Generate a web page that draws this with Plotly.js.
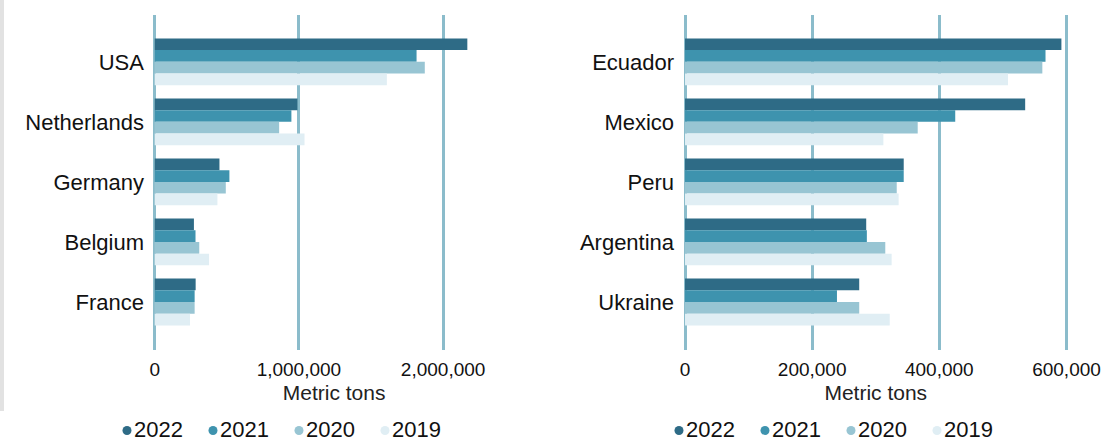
<!DOCTYPE html>
<html>
<head>
<meta charset="utf-8">
<script src="https://cdn.plot.ly/plotly-3.0.1.min.js"></script>
<style>html,body{margin:0;padding:0;background:#fff;}#chart{width:1115px;height:441px;}</style>
</head>
<body>
<div id="chart"></div>
<script>
// ---- data ----
var years = ['2022', '2021', '2020', '2019'];
var yearColors = ['#2e6b86', '#3e93ae', '#98c5d3', '#e0eef4'];

var leftCountries = ['USA', 'Netherlands', 'Germany', 'Belgium', 'France'];
var left2022 = [2168000, 990000, 449000, 272000, 284000];
var left2021 = [1816000, 948000, 518000, 283000, 277000];
var left2020 = [1873000, 863000, 493000, 309000, 277000];
var left2019 = [1610000, 1039000, 435000, 377000, 245000];

var rightCountries = ['Ecuador', 'Mexico', 'Peru', 'Argentina', 'Ukraine'];
var right2022 = [592000, 535000, 344000, 285000, 274000];
var right2021 = [567000, 425000, 344000, 286000, 239000];
var right2020 = [562000, 366000, 333000, 315000, 274000];
var right2019 = [508000, 312000, 336000, 325000, 322000];

var axisTitle = 'Metric tons';

// ---- layout helpers (pixel -> paper) ----
var W = 1115, H = 441, MT = 15, MB = 91;
var plotH = H - MT - MB;
function px(x) { return x / W; }
function py(y) { return (H - MB - y) / plotH; }

var leftVals = [left2022, left2021, left2020, left2019];
var rightVals = [right2022, right2021, right2020, right2019];

var traces = [];
years.forEach(function (yr, i) {
  traces.push({
    type: 'bar', orientation: 'h', name: yr,
    y: leftCountries, x: leftVals[i],
    marker: {color: yearColors[i], line: {width: 0}},
    xaxis: 'x', yaxis: 'y', showlegend: false, hoverinfo: 'x+y'
  });
});
years.forEach(function (yr, i) {
  traces.push({
    type: 'bar', orientation: 'h', name: yr,
    y: rightCountries, x: rightVals[i],
    marker: {color: yearColors[i], line: {width: 0}},
    xaxis: 'x2', yaxis: 'y2', showlegend: false, hoverinfo: 'x+y'
  });
});

var FONT = '"Liberation Sans", Arial, Helvetica, sans-serif';
var gridColor = '#8bbccb';

function xAxis(anchor, domain, range, dtick) {
  return {
    anchor: anchor, domain: domain, range: range, dtick: dtick, tick0: 0,
    tickformat: ',d', showgrid: true, gridcolor: gridColor, gridwidth: 3,
    zeroline: false, showline: false, ticks: '',
    tickfont: {family: FONT, size: 19, color: '#111'},
    ticklabelstandoff: 6,
    title: {text: axisTitle, font: {family: FONT, size: 21, color: '#222'}, standoff: 6},
    fixedrange: true
  };
}
function yAxis(anchor) {
  return {
    anchor: anchor, type: 'category', range: [4.8, -0.78],
    showgrid: false, zeroline: false, showline: false, ticks: '',
    tickfont: {family: FONT, size: 22, color: '#111'},
    ticklabelstandoff: 8, fixedrange: true
  };
}

var shapes = [{
  type: 'rect', xref: 'paper', yref: 'paper',
  x0: px(0), x1: px(4), y0: py(0), y1: py(411),
  fillcolor: '#e2e2e2', line: {width: 0}, layer: 'below'
}];
var annotations = [];
var legendStarts = [127, 679];
var legendY = 429;
var period = 86;
legendStarts.forEach(function (x0) {
  years.forEach(function (yr, i) {
    var cx = x0 + i * period;
    shapes.push({
      type: 'circle', xref: 'paper', yref: 'paper',
      x0: px(cx - 4.5), x1: px(cx + 4.5), y0: py(legendY + 6), y1: py(legendY - 3),
      fillcolor: yearColors[i], line: {width: 0}
    });
    annotations.push({
      xref: 'paper', yref: 'paper', x: px(cx + 5), y: py(legendY),
      xanchor: 'left', yanchor: 'middle', showarrow: false,
      text: yr, font: {family: FONT, size: 22, color: '#111'}
    });
  });
});

// left: 144.2 px per 1,000,000 ; right: 127.17 px per 200,000
var lScale = 360.5 / 2500000, rScale = 381.5 / 600000;
var lPad = 12000, rPad = 3000;

var layout = {
  width: W, height: H,
  margin: {l: 0, r: 0, t: MT, b: MB, pad: 0},
  paper_bgcolor: '#fff', plot_bgcolor: 'rgba(0,0,0,0)',
  barmode: 'group', bargap: 0.22, bargroupgap: 0,
  showlegend: false,
  font: {family: FONT, color: '#111'},
  xaxis: xAxis('y', [px(154.7 - lPad * lScale), px(515.2)], [-lPad, 2500000], 1000000),
  yaxis: yAxis('x'),
  xaxis2: xAxis('y2', [px(685 - rPad * rScale), px(1066.5 + rPad * rScale)], [-rPad, 600000 + rPad], 200000),
  yaxis2: yAxis('x2'),
  shapes: shapes,
  annotations: annotations
};

Plotly.newPlot('chart', traces, layout, {displayModeBar: false, staticPlot: true});
</script>
</body>
</html>
